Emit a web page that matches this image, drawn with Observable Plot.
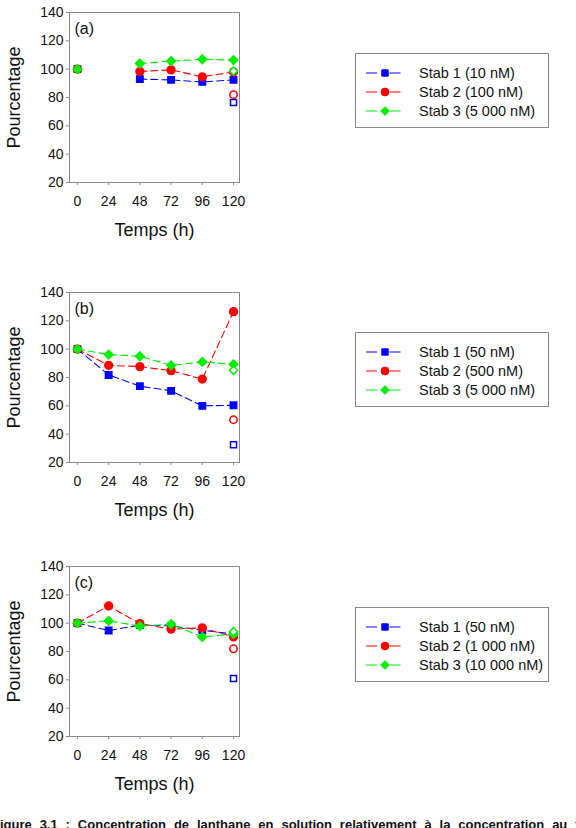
<!DOCTYPE html>
<html><head><meta charset="utf-8">
<script src="https://cdn.jsdelivr.net/npm/d3@7"></script>
<script src="https://cdn.jsdelivr.net/npm/@observablehq/plot@0.6"></script>
<style>
body{margin:0;background:#fff;font-family:"Liberation Sans",Arial,sans-serif;}
#root{position:relative;width:576px;height:828px;overflow:hidden;background:#fff;}
.panel{position:absolute;left:0;}
.legend{position:absolute;left:355px;width:194px;height:75px;border:1px solid #8a8a8a;box-sizing:border-box;background:#fff;}
.caption{position:absolute;left:-8px;top:818px;white-space:nowrap;font-weight:bold;font-size:13px;line-height:14px;word-spacing:4.3px;color:#111;}
</style></head>
<body><div id="root"></div>
<script>
const hours = [0, 24, 48, 72, 96, 120];
const yTicks = [20, 40, 60, 80, 100, 120, 140];
const seriesNames = ["Stab 1", "Stab 2", "Stab 3"];
const colors = ["#0000ff", "#ff0000", "#00ee00"];
const symbols = ["square", "circle", "diamond2"];

// Panel (a)
const aLabel = "(a)";
const aStab1 = [100, null, 93, 92.4, 91, 92.4];
const aStab2 = [100, null, 98.4, 99.5, 94.6, 98];
const aStab3 = [100, null, 104, 105.7, 107, 106.4];
const aOpen = [76.4, 82, 98.6];
const aLegend = ["Stab 1 (10 nM)", "Stab 2 (100 nM)", "Stab 3 (5 000 nM)"];

// Panel (b)
const bLabel = "(b)";
const bStab1 = [100, 81.8, 73.9, 70.6, 60, 60.4];
const bStab2 = [100, 88.6, 87.7, 84.8, 78.9, 126.5];
const bStab3 = [100, 96.2, 95, 88.6, 91, 89.3];
const bOpen = [32.5, 50.2, 85.1];
const bLegend = ["Stab 1 (50 nM)", "Stab 2 (500 nM)", "Stab 3 (5 000 nM)"];

// Panel (c)
const cLabel = "(c)";
const cStab1 = [100, 94.8, 98.6, 98, 95, 92.3];
const cStab2 = [100, 112.2, 99.7, 95.8, 96.7, 90.3];
const cStab3 = [100, 101.6, 97.9, 99.3, 90.3, 92.2];
const cOpen = [61, 81.9, 94];
const cLegend = ["Stab 1 (50 nM)", "Stab 2 (1 000 nM)", "Stab 3 (10 000 nM)"];

const xLabel = "Temps (h)";
const yLabel = "Pourcentage";
const captionText = "Figure 3.1 : Concentration de lanthane en solution relativement à la concentration au temps";

const root = document.getElementById("root");

function makePanel(top, label, series, open, legendLabels, legendTop) {
  const rows = [];
  series.forEach((vals, s) => vals.forEach((v, i) => rows.push({series: s, x: hours[i], y: v})));
  const openRows = open.map((v, s) => ({series: s, x: hours[hours.length - 1], y: v}));
  const marks = [
    Plot.frame({stroke: "#8a8a8a"}),
    Plot.axisY({ticks: yTicks, tickSize: 3, tickPadding: 3, fontSize: 14, label: null, stroke: "#8a8a8a"}),
    Plot.axisX({ticks: hours, tickSize: 3, tickPadding: 11, fontSize: 14, label: null, stroke: "#8a8a8a"}),
  ];
  for (let s = 0; s < 3; s++) {
    marks.push(Plot.line(rows.filter(d => d.series === s), {
      x: "x", y: "y", stroke: colors[s], strokeWidth: 1.1, strokeDasharray: "7,4"
    }));
  }
  for (let s = 0; s < 3; s++) {
    marks.push(Plot.dot(rows.filter(d => d.series === s && d.y != null), {
      x: "x", y: "y", symbol: symbols[s], fill: colors[s], stroke: colors[s], r: s === 0 ? 3.6 : 3.9
    }));
    marks.push(Plot.dot(openRows.filter(d => d.series === s), {
      x: "x", y: "y", symbol: symbols[s], fill: "white", stroke: colors[s], strokeWidth: 1.5, r: s === 0 ? 3.4 : 3.7
    }));
  }
  marks.push(Plot.text([label], {frameAnchor: "top-left", dx: 5, dy: 16, textAnchor: "start", lineAnchor: "middle", fontSize: 16, fill: "#111"}));
  marks.push(Plot.text([yLabel], {frameAnchor: "left", dx: -55, rotate: -90, textAnchor: "middle", lineAnchor: "middle", fontSize: 18, fill: "#111"}));
  marks.push(Plot.text([xLabel], {frameAnchor: "bottom", dy: 48, textAnchor: "middle", lineAnchor: "middle", fontSize: 18, fill: "#111"}));

  const chart = Plot.plot({
    width: 250, height: 245,
    marginLeft: 69, marginRight: 11, marginTop: 12, marginBottom: 63,
    x: {domain: [-6.1, 124.6]},
    y: {domain: [20, 140]},
    style: {fontFamily: "Liberation Sans, Arial, sans-serif", color: "#111", background: "transparent"},
    marks
  });
  const wrap = document.createElement("div");
  wrap.className = "panel";
  wrap.style.top = top + "px";
  wrap.appendChild(chart);
  root.appendChild(wrap);

  // legend
  const leg = document.createElement("div");
  leg.className = "legend";
  leg.style.top = legendTop + "px";
  const svg = d3.create("svg").attr("width", 192).attr("height", 73);
  legendLabels.forEach((t, s) => {
    const cy = 19 + s * 19;
    svg.append("line").attr("x1", 10).attr("x2", 48).attr("y1", cy).attr("y2", cy)
      .attr("stroke", colors[s]).attr("stroke-width", 1.1).attr("stroke-dasharray", "11,3.5,0,9,11");
    const sym = {square: d3.symbolSquare, circle: d3.symbolCircle, diamond2: d3.symbolDiamond2}[symbols[s]];
    const r = s === 0 ? 3.6 : 3.9;
    svg.append("path").attr("d", d3.symbol(sym, Math.PI * r * r)()).attr("transform", `translate(29,${cy})`)
      .attr("fill", colors[s]).attr("stroke", colors[s]);
    svg.append("text").attr("x", 63).attr("y", cy).attr("dy", "0.35em")
      .attr("font-size", 14.5).attr("fill", "#111").attr("font-family", "Liberation Sans, Arial, sans-serif").text(t);
  });
  leg.appendChild(svg.node());
  root.appendChild(leg);
}

makePanel(0, aLabel, [aStab1, aStab2, aStab3], aOpen, aLegend, 53);
makePanel(280, bLabel, [bStab1, bStab2, bStab3], bOpen, bLegend, 332);
makePanel(554, cLabel, [cStab1, cStab2, cStab3], cOpen, cLegend, 607);

const cap = document.createElement("div");
cap.className = "caption";
cap.textContent = captionText;
root.appendChild(cap);
</script>
</body></html>
